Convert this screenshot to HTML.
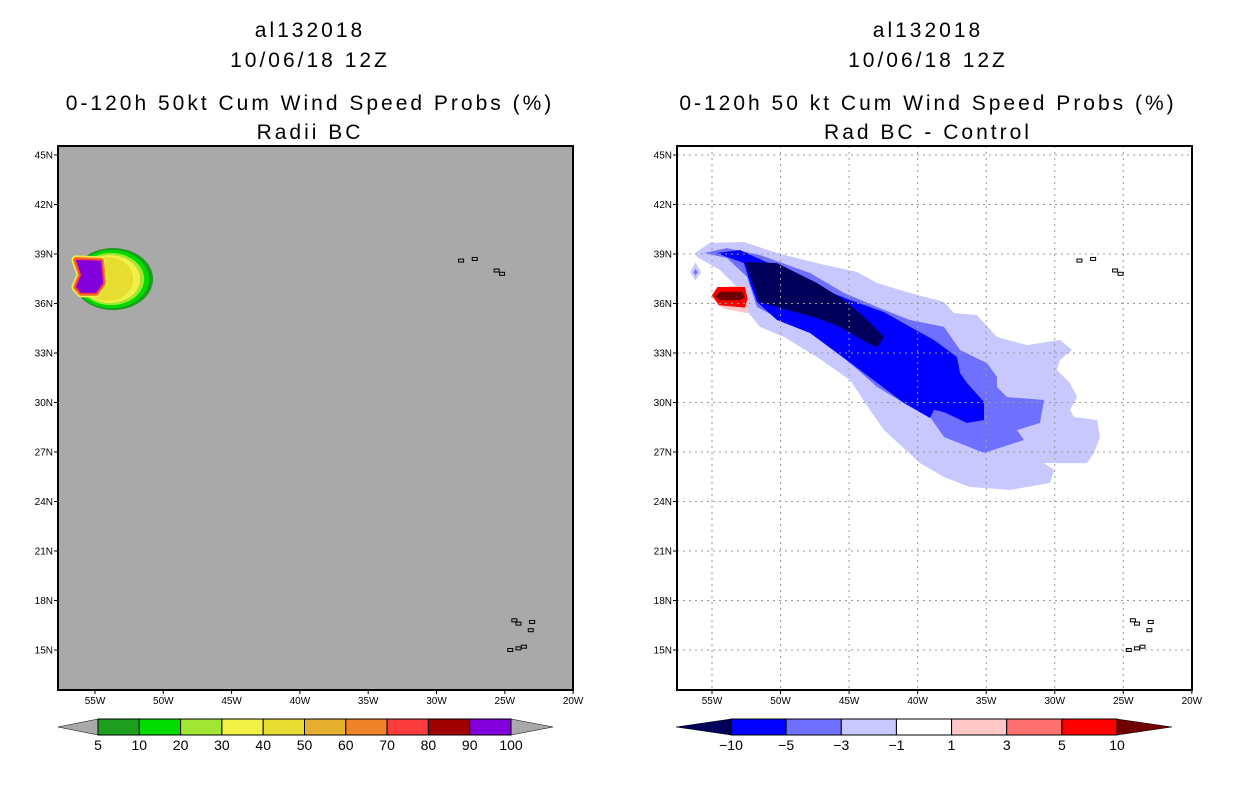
<!DOCTYPE html>
<html><head><meta charset="utf-8"><style>
body{margin:0;background:#fff;width:1236px;height:800px;overflow:hidden}
svg text{font-family:"Liberation Sans",sans-serif}
</style></head><body>
<svg id="svg" width="1236" height="800" xmlns="http://www.w3.org/2000/svg">
<g font-size="21" text-anchor="middle" fill="#000" letter-spacing="3">
<text x="310" y="37">al132018</text>
<text x="310" y="67">10/06/18 12Z</text>
<text x="310" y="110">0-120h 50kt Cum Wind Speed Probs (%)</text>
<text x="310" y="139">Radii BC</text>
<text x="928" y="37">al132018</text>
<text x="928" y="67">10/06/18 12Z</text>
<text x="928" y="110">0-120h 50 kt Cum Wind Speed Probs (%)</text>
<text x="928" y="139">Rad BC - Control</text>
</g>
<g id="left"></g>
<g id="right"></g>
</svg>
<script>
const lonTicks=[55,50,45,40,35,30,25,20];
const latTicks=[45,42,39,36,33,30,27,24,21,18,15];
// left panel contour levels: [lonCenter, latCenter, rxDeg, ryDeg]
const leftLevelColors=["#1e9e1e","#00dc00","#a0e632","#f0f046","#e6dc32"];
const leftLevelEllipses=[[53.68,37.48,2.93,1.88],[53.75,37.48,2.7,1.76],[53.82,37.48,2.42,1.58],[53.9,37.48,2.2,1.45],[54.1,37.48,1.9,1.33]];
const leftClip=[[56.3,39.7],[49,40],[49,35],[56.3,35.5],[56.61,37.0],[55.88,37.85],[56.61,38.52]];
const leftPurple=[[56.39,38.64],[54.56,38.58],[54.41,37.24],[54.93,36.64],[56.02,36.64],[56.39,37.0],[56.02,37.73]];
// right panel difference contours
const rightLight=[[56.24,39.06],[55.15,39.67],[52.67,39.73],[50.26,39.06],[47.34,38.45],[44.42,37.91],[42.96,37.24],[40.56,36.64],[38.08,36.09],[37.35,35.42],[35.67,35.30],[34.21,33.97],[32.02,33.48],[29.62,33.79],[28.74,33.18],[29.62,32.58],[29.84,31.97],[28.89,31.18],[28.38,30.33],[28.89,29.55],[28.60,29.12],[26.92,28.94],[26.70,27.91],[27.14,26.94],[27.65,26.33],[30.78,26.33],[30.05,25.91],[30.35,25.12],[33.26,24.70],[36.18,24.88],[38.08,25.48],[39.83,26.33],[42.45,28.33],[43.48,29.55],[44.93,31.36],[47.34,32.76],[49.75,33.97],[51.50,34.58],[52.67,35.79],[53.18,37.00],[54.42,38.03],[56.09,38.82]];
const rightMedium=[[55.58,39.06],[53.91,39.36],[51.50,38.94],[47.85,37.85],[45.37,36.64],[42.96,35.79],[40.56,35.00],[38.08,34.58],[36.91,33.18],[34.94,32.39],[34.21,31.55],[34.21,30.94],[33.48,30.33],[30.78,30.15],[31.08,28.76],[32.75,28.33],[32.24,27.73],[35.16,26.94],[38.08,27.91],[39.10,29.12],[41.00,29.97],[42.96,30.94],[44.93,32.39],[47.12,33.97],[49.53,34.82],[51.72,35.79],[52.45,37.61],[53.91,38.76]];
const rightBlue=[[54.64,39.06],[52.96,39.24],[50.26,38.21],[47.34,37.00],[44.93,36.21],[42.45,35.48],[40.56,34.58],[38.81,33.79],[37.13,32.76],[36.91,31.79],[36.40,31.18],[35.16,30.03],[35.16,28.94],[36.40,28.76],[38.08,29.42],[38.81,29.55],[39.10,29.06],[41.00,29.97],[43.91,31.79],[45.88,33.00],[47.85,34.21],[50.26,35.00],[51.72,36.09],[52.23,37.24],[52.67,38.45],[53.91,38.82]];
const rightNavy=[[52.59,38.52],[50.26,38.45],[47.34,37.24],[45.15,36.09],[43.91,35.18],[42.45,33.97],[42.96,33.36],[43.69,33.61],[45.66,34.58],[47.34,35.12],[50.26,35.79],[51.57,36.09],[51.94,37.00]];
const rightPink=[[55.1,36.4],[54.5,37.0],[52.6,37.1],[52.3,36.3],[52.4,35.4],[54.2,35.7]];
const rightRed=[[55.0,36.5],[54.6,37.0],[52.6,37.0],[52.4,36.3],[52.6,35.75],[54.5,35.9]];
const rightDark=[[54.8,36.45],[54.4,36.72],[52.8,36.72],[52.6,36.4],[52.9,36.2],[54.4,36.2]];
const rightSmall=[[56.2,38.5],[56.6,37.9],[56.2,37.4],[55.8,37.9]];
const rightSmallMid=[[56.2,38.1],[56.35,37.9],[56.2,37.7],[56.05,37.9]];
const leftBarColors=["#1e9e1e","#00dc00","#a0e632","#f0f046","#e6dc32","#e6af2d","#f08228","#fa3c3c","#a00000","#8200dc"];
const leftBarLabels=["5","10","20","30","40","50","60","70","80","90","100"];
const rightBarColors=["#0000ff","#7070ff","#c8c8ff","#ffffff","#ffc8c8","#ff7070","#ff0000"];
const rightBarLabels=["\u221210","\u22125","\u22123","\u22121","1","3","5","10"];

const NS="http://www.w3.org/2000/svg";
function mk(parent,tag,attrs){const e=document.createElementNS(NS,tag);for(const k in attrs)e.setAttribute(k,attrs[k]);parent.appendChild(e);return e;}
function panel(x0,lon55x,pxPerDeg){
  return {x0:x0,x1:x0+515,y0:146,y1:690,
    X:l=>lon55x+(55-l)*pxPerDeg, Y:p=>155+(45-p)*16.5};
}
const L=panel(58,95,13.66), R=panel(677,712,13.71);
function pts(P,arr){return arr.map(a=>P.X(a[0]).toFixed(1)+","+P.Y(a[1]).toFixed(1)).join(" ");}

function axes(g,P,name,grid){
  for(const t of latTicks){
    const y=P.Y(t);
    if(grid){const ln=mk(g,"line",{x1:P.x0,x2:P.x1,y1:y,y2:y,stroke:"#999","stroke-dasharray":"2,4"});
    
    }
    mk(g,"line",{x1:P.x0-4,x2:P.x0,y1:y,y2:y,stroke:"#000"});
    const tx=mk(g,"text",{x:P.x0-5,y:y+3.5,"font-size":"10","text-anchor":"end"});
    tx.textContent=t+"N";
    
    
  }
  for(const t of lonTicks){
    const x=P.X(t);
    if(grid&&t>20){const ln=mk(g,"line",{x1:x,x2:x,y1:P.y0,y2:P.y1,stroke:"#999","stroke-dasharray":"2,4"});
    
    }
    mk(g,"line",{x1:x,x2:x,y1:P.y1,y2:P.y1+4,stroke:"#000"});
    const tx=mk(g,"text",{x:x,y:P.y1+14,"font-size":"10","text-anchor":"middle"});
    tx.textContent=t+"W";
    
    
  }
}
function islands(g,P,name){
  const isl=[[28.2,38.6],[27.2,38.7],[25.6,38.0],[25.2,37.8],[24.3,16.8],[24.0,16.6],[23.0,16.7],[23.1,16.2],[24.6,15.0],[24.0,15.1],[23.6,15.2]];
  for(const s of isl){const e=mk(g,"rect",{x:P.X(s[0])-2.5,y:P.Y(s[1])-1.5,width:5,height:3,fill:"none",stroke:"#000","stroke-width":"1"});
  
  }
}

// LEFT PANEL
const gl=document.getElementById("left");
let r=mk(gl,"rect",{x:L.x0,y:L.y0,width:515,height:544,fill:"#a9a9a9"});


const cp=mk(gl,"clipPath",{id:"lclip"});mk(cp,"polygon",{points:pts(L,leftClip)});
leftLevelEllipses.forEach((e,i)=>{
  const el=mk(gl,"ellipse",{cx:L.X(e[0]),cy:L.Y(e[1]),rx:e[2]*13.66,ry:e[3]*16.5,fill:leftLevelColors[i],"clip-path":"url(#lclip)"});
  
  
});
[["#f0f046",9],["#f08228",6],["#fa3c3c",3]].forEach(s=>{
  const el=mk(gl,"polygon",{points:pts(L,leftPurple),fill:"#8200dc",stroke:s[0],"stroke-width":s[1],"stroke-linejoin":"round"});
  
  
});
r=mk(gl,"polygon",{points:pts(L,leftPurple),fill:"#8200dc"});


islands(gl,L,'left');
r=mk(gl,"rect",{x:L.x0,y:L.y0,width:515,height:544,fill:"none",stroke:"#000","stroke-width":"2"});


axes(gl,L,'left',false);

// RIGHT PANEL
const gr=document.getElementById("right");
[[rightLight,"#c8c8ff"],[rightSmall,"#c8c8ff"],[rightSmallMid,"#7070ff"],[rightMedium,"#7070ff"],[rightBlue,"#0000ff"],[rightNavy,"#00005a"],[rightPink,"#ffc8c8"],[rightRed,"#ff0000"],[rightDark,"#700000"]].forEach(a=>{
  const el=mk(gr,"polygon",{points:pts(R,a[0]),fill:a[1]});
  
  
});
axes(gr,R,'right',true);
islands(gr,R,'right');
r=mk(gr,"rect",{x:R.x0,y:R.y0,width:515,height:544,fill:"none",stroke:"#000","stroke-width":"2"});



// colorbars
function colorbar(g,x0,x1,tip0,tip1,colors,labels,tipL,tipR,name){
  const w=(x1-x0)/colors.length,y=719,h=16;
  let t=mk(g,"polygon",{points:`${tip0},${y+h/2} ${x0},${y} ${x0},${y+h}`,fill:tipL,stroke:"#000","stroke-width":"0.5"});
  
  
  t=mk(g,"polygon",{points:`${tip1},${y+h/2} ${x1},${y} ${x1},${y+h}`,fill:tipR,stroke:"#000","stroke-width":"0.5"});
  
  
  colors.forEach((c,i)=>{
    const b=mk(g,"rect",{x:x0+i*w,y:y,width:w,height:h,fill:c,stroke:"#000","stroke-width":"1"});
    
    
  });
  labels.forEach((s,i)=>{
    const tx=mk(g,"text",{x:x0+i*w,y:750,"font-size":"14","text-anchor":"middle"});
    tx.textContent=s;
    
    
  });
}
colorbar(gl,98,511,58,553,leftBarColors,leftBarLabels,"#a9a9a9","#a9a9a9","left-colorbar");
colorbar(gr,731,1117,676,1172,rightBarColors,rightBarLabels,"#00005a","#700000","right-colorbar");
</script>
</body></html>
